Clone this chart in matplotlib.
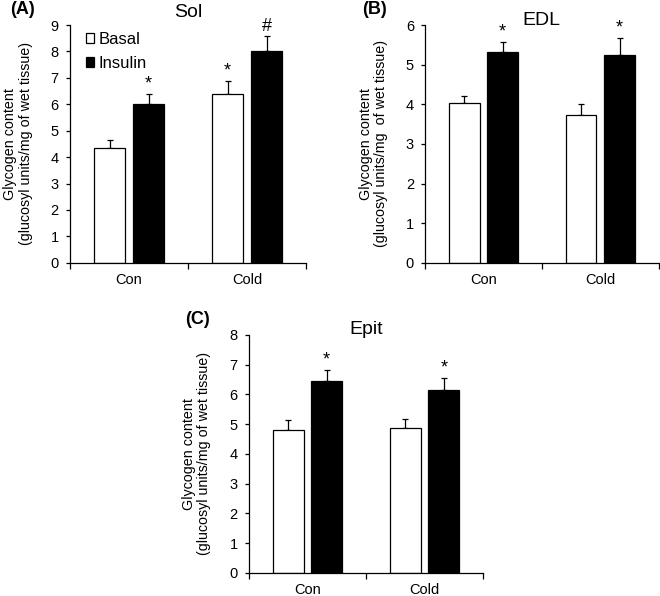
import numpy as np
import matplotlib
matplotlib.use('Agg')
from matplotlib import pyplot as plt

plt.rcParams['font.family'] = ['Liberation Sans', 'DejaVu Sans']

groups = ['Con', 'Cold']
series = ['Basal', 'Insulin']

sol_mean = {'Basal': [4.35, 6.38], 'Insulin': [6.02, 8.00]}
sol_err = {'Basal': [0.30, 0.49], 'Insulin': [0.36, 0.58]}
sol_marks = {'Basal': ['', '*'], 'Insulin': ['*', '#']}

edl_mean = {'Basal': [4.03, 3.72], 'Insulin': [5.33, 5.25]}
edl_err = {'Basal': [0.19, 0.28], 'Insulin': [0.24, 0.42]}
edl_marks = {'Basal': ['', ''], 'Insulin': ['*', '*']}

epit_mean = {'Basal': [4.82, 4.87], 'Insulin': [6.45, 6.15]}
epit_err = {'Basal': [0.33, 0.30], 'Insulin': [0.37, 0.40]}
epit_marks = {'Basal': ['', ''], 'Insulin': ['*', '*']}

colors = {'Basal': 'white', 'Insulin': 'black'}


def panel(ax, mean, err, marks, ymax, title, ylab, title_y):
    x = np.arange(len(groups))
    w = 0.265
    for i, s in enumerate(series):
        pos = x + (i - 0.5) * 0.33
        lo = np.zeros(len(groups))
        ax.bar(pos, mean[s], w, color=colors[s], edgecolor='black',
               linewidth=0.9, label=s, zorder=2)
        ax.errorbar(pos, mean[s], yerr=[lo, err[s]], fmt='none',
                    ecolor='black', elinewidth=0.9, capsize=2.5,
                    capthick=0.9, zorder=1)
        for p, m, e, t in zip(pos, mean[s], err[s], marks[s]):
            if t:
                ax.annotate(t, (p, m + e), xytext=(0, 1),
                            textcoords='offset points', ha='center',
                            va='bottom', fontsize=13)
    ax.set_xlim(-0.5, 1.5)
    ax.set_ylim(0, ymax)
    ax.set_yticks(np.arange(0, ymax + 1))
    ax.set_xticks(x)
    ax.set_xticklabels(groups, fontsize=10.5)
    ax.set_xticks([-0.5, 0.5, 1.5], minor=True)
    ax.tick_params(axis='x', which='major', length=0, pad=7.5)
    ax.tick_params(axis='x', which='minor', length=4, width=0.9)
    ax.tick_params(axis='y', labelsize=10.5, length=3, width=0.9, pad=5)
    for sp in ['top', 'right']:
        ax.spines[sp].set_visible(False)
    for sp in ['left', 'bottom']:
        ax.spines[sp].set_linewidth(0.9)
    ax.set_ylabel(ylab, fontsize=10.3, linespacing=1.1, labelpad=13)
    ax.text(0.5, title_y, title, transform=ax.transAxes, ha='center',
            va='center', fontsize=14)


fig = plt.figure(figsize=(6.6, 5.96), dpi=100)
ax1 = fig.add_axes([0.106, 0.559, 0.358, 0.399])
ax2 = fig.add_axes([0.644, 0.559, 0.354, 0.399])
ax3 = fig.add_axes([0.377, 0.0386, 0.355, 0.3996])

panel(ax1, sol_mean, sol_err, sol_marks, 9, 'Sol',
      'Glycogen content\n(glucosyl units/mg of wet tissue)', 1.052)
panel(ax2, edl_mean, edl_err, edl_marks, 6, 'EDL',
      'Glycogen content\n(glucosyl units/mg  of wet tissue)', 1.017)
panel(ax3, epit_mean, epit_err, epit_marks, 8, 'Epit',
      'Glycogen content\n(glucosyl units/mg of wet tissue)', 1.021)

ax1.legend(loc='upper left', bbox_to_anchor=(0.04, 1.0), frameon=False,
           fontsize=12, handlelength=0.5, handleheight=0.5,
           handletextpad=0.25, labelspacing=0.55, borderaxespad=0.0)

fig.text(10 / 660, 1 - 10 / 596, '(A)', fontsize=13, fontweight='bold',
         va='center', ha='left')
fig.text(362 / 660, 1 - 10 / 596, '(B)', fontsize=13, fontweight='bold',
         va='center', ha='left')
fig.text(185 / 660, 1 - 319 / 596, '(C)', fontsize=13, fontweight='bold',
         va='center', ha='left')

fig.savefig('out.png', dpi=100)
